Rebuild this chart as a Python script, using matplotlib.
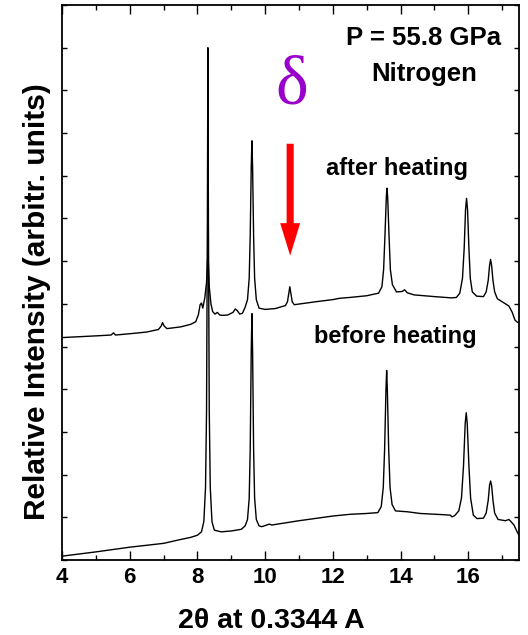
import matplotlib
matplotlib.use("Agg")
import matplotlib.pyplot as plt
from matplotlib.ticker import MultipleLocator, NullFormatter

plt.rcParams['font.family'] = ['Liberation Sans', 'DejaVu Sans']
plt.rcParams['font.weight'] = 'bold'

# "after heating" pattern (upper trace)
two_theta_after = [4.0, 4.5, 5.0, 5.45, 5.52, 5.58, 6.0, 6.5, 6.85, 6.93, 6.97, 7.02, 7.1,
                   7.5, 7.8, 7.95, 8.03, 8.08, 8.12, 8.16, 8.22, 8.27, 8.295, 8.31, 8.325,
                   8.35, 8.4, 8.45, 8.52, 8.59, 8.66, 8.75, 8.9, 9.05, 9.12, 9.18, 9.25,
                   9.33, 9.41, 9.48, 9.53, 9.56, 9.59, 9.61, 9.63, 9.66, 9.69, 9.74, 9.82,
                   10.0, 10.3, 10.6, 10.66, 10.70, 10.73, 10.76, 10.80, 10.86, 11.5, 12.0,
                   12.2, 12.5, 13.0, 13.35, 13.45, 13.50, 13.54, 13.58, 13.60, 13.62,
                   13.66, 13.70, 13.76, 13.88, 14.05, 14.12, 14.2, 14.4, 15.0, 15.5,
                   15.65, 15.75, 15.83, 15.88, 15.92, 15.95, 15.98, 16.02, 16.06, 16.12,
                   16.25, 16.45, 16.53, 16.59, 16.63, 16.66, 16.69, 16.73, 16.78, 16.86,
                   17.0, 17.1, 17.2, 17.3, 17.38, 17.45, 17.5]
intensity_after = [5.21, 5.23, 5.25, 5.27, 5.32, 5.27, 5.30, 5.34, 5.40, 5.48, 5.56, 5.48, 5.42,
                   5.46, 5.52, 5.58, 5.75, 5.98, 6.02, 5.90, 6.15, 6.5, 6.95, 7.17, 6.95,
                   6.4, 6.0, 5.82, 5.76, 5.80, 5.74, 5.73, 5.74, 5.80, 5.88, 5.84, 5.76,
                   5.78, 5.92, 6.1, 6.6, 7.6, 9.2, 9.82, 9.2, 7.6, 6.6, 6.1, 5.9,
                   5.87, 5.89, 5.96, 6.05, 6.25, 6.40, 6.25, 6.05, 5.98, 6.05, 6.10,
                   6.13, 6.15, 6.19, 6.25, 6.4, 6.8, 7.6, 8.5, 8.71, 8.5,
                   7.6, 6.8, 6.45, 6.28, 6.29, 6.33, 6.26, 6.21, 6.17, 6.14,
                   6.15, 6.25, 6.6, 7.3, 8.2, 8.47, 8.2, 7.3, 6.6, 6.28,
                   6.18, 6.17, 6.28, 6.55, 6.9, 7.04, 6.9, 6.55, 6.28, 6.12,
                   6.05, 6.0, 5.95, 5.80, 5.62, 5.57, 5.56]

# "before heating" pattern (lower trace)
two_theta_before = [4.0, 5.0, 6.0, 7.0, 7.5, 7.8, 8.0, 8.12, 8.19, 8.24, 8.27, 8.295, 8.31,
                    8.325, 8.35, 8.38, 8.43, 8.5, 8.7, 9.0, 9.3, 9.41, 9.48, 9.53, 9.56,
                    9.59, 9.61, 9.63, 9.66, 9.69, 9.74, 9.82, 9.9, 10.05, 10.12, 10.2,
                    11.0, 12.0, 12.5, 13.0, 13.33, 13.43, 13.49, 13.53, 13.57, 13.59, 13.61,
                    13.65, 13.69, 13.75, 13.85, 14.2, 14.58, 15.3, 15.47, 15.52, 15.6,
                    15.72, 15.8, 15.86, 15.91, 15.94, 15.97, 16.02, 16.07, 16.15, 16.26,
                    16.45, 16.53, 16.59, 16.63, 16.66, 16.69, 16.73, 16.78, 16.88, 17.1,
                    17.2, 17.25, 17.35, 17.45, 17.5]
intensity_before = [0.09, 0.19, 0.30, 0.39, 0.48, 0.53, 0.58, 0.66, 0.9, 1.7, 3.5, 8.0, 12.0,
                    8.0, 3.5, 1.7, 0.9, 0.70, 0.66, 0.68, 0.72, 0.80, 0.95, 1.45, 2.6,
                    4.9, 5.77, 4.9, 2.6, 1.45, 0.95, 0.80, 0.78, 0.82, 0.84, 0.82,
                    0.92, 1.03, 1.07, 1.09, 1.11, 1.25, 1.7, 2.6, 4.0, 4.44, 4.0,
                    2.6, 1.7, 1.3, 1.15, 1.13, 1.09, 1.06, 1.05, 1.01, 1.04,
                    1.15, 1.45, 2.2, 3.2, 3.45, 3.2, 2.2, 1.45, 1.05, 0.97,
                    0.98, 1.1, 1.4, 1.75, 1.85, 1.75, 1.4, 1.1, 0.95, 0.92,
                    0.95, 0.91, 0.82, 0.65, 0.58]

delta_peak = 10.74

fig = plt.figure(figsize=(5.28, 6.35), dpi=100)
ax = fig.add_axes([0.1174, 0.1181, 0.8656, 0.874])

ax.plot(two_theta_after, intensity_after, color='black', lw=1.0)
ax.plot(two_theta_before, intensity_before, color='black', lw=1.0)

ax.set_xlim(4, 17.5)
ax.set_ylim(0, 13)

ax.xaxis.set_major_locator(MultipleLocator(2))
ax.xaxis.set_minor_locator(MultipleLocator(1))
ax.yaxis.set_major_locator(MultipleLocator(1))
ax.yaxis.set_major_formatter(NullFormatter())
ax.tick_params(axis='x', which='major', direction='in', length=6.5, width=1.0,
               top=True, labelsize=16, pad=5)
ax.tick_params(axis='x', which='minor', direction='in', length=3.4, width=1.0, top=True)
ax.tick_params(axis='y', which='major', direction='in', length=3.6, width=1.0, right=True)
for lab in ax.get_xticklabels():
    lab.set_fontweight('bold')
for sp in ax.spines.values():
    sp.set_linewidth(1.3)

ax.set_xlabel("2θ at 0.3344 A", fontsize=20.5, fontweight='bold', va='baseline')
ax.xaxis.set_label_coords(0.459, -0.1225)
ax.set_ylabel("Relative Intensity (arbitr. units)", fontsize=21.5, fontweight='bold')
ax.yaxis.set_label_coords(-0.025, 0.466)

ax.text(14.69, 12.06, "P = 55.8 GPa", fontsize=18.5, fontweight='bold', ha='center', va='baseline')
ax.text(14.69, 11.22, "Nitrogen", fontsize=18.5, fontweight='bold', ha='center', va='baseline')
ax.text(13.89, 9.01, "after heating", fontsize=17, fontweight='bold', ha='center', va='baseline')
ax.text(13.85, 5.08, "before heating", fontsize=17, fontweight='bold', ha='center', va='baseline')
ax.text(10.78, 10.70, "δ", fontsize=50, color='#9900CC', family=['Liberation Serif', 'DejaVu Serif'],
        fontweight='normal', ha='center', va='baseline')

ax.arrow(delta_peak, 9.75, 0, 7.13 - 9.75, width=0.21, head_width=0.59, head_length=0.76,
         length_includes_head=True, color='red', lw=0)

fig.savefig("out.png", dpi=100)
